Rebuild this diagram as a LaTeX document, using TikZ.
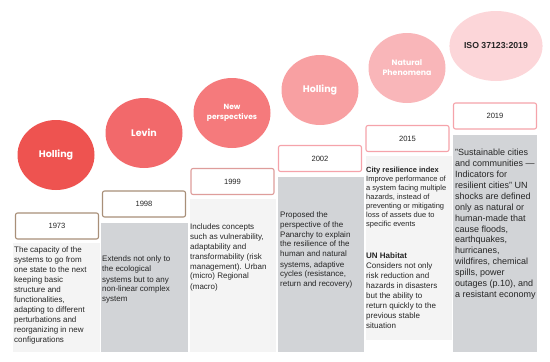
\documentclass[tikz,border=0pt]{standalone}
\usepackage{fontspec}
\setmainfont{Liberation Sans}
\newfontfamily\poppins{Poppins}
\usetikzlibrary{shapes.geometric}

\definecolor{boxbrown}{HTML}{A88F78}
\definecolor{boxpink}{HTML}{F5A3AA}
\definecolor{paneldark}{HTML}{D2D4D7}
\definecolor{panellight}{HTML}{F4F4F4}
\definecolor{txt}{HTML}{262626}

\tikzset{
	bubble/.style={ellipse, minimum width=77pt, minimum height=70pt, inner sep=1pt, align=center, text=white},
	yearbox/.style={draw=#1, line width=1.1pt, rounded corners=2pt, fill=white, minimum width=83pt, minimum height=26pt, text=txt, font=\fontsize{7.6}{9}\selectfont},
	blurb/.style={anchor=north west, align=left, inner sep=0pt, text=txt, font=\fontsize{8}{10}\selectfont},
}

\begin{document}
\begin{tikzpicture}[x=1pt, y=-1pt]
	\useasboundingbox (0,0) rectangle (550,362);
	% panels behind the texts
	\fill[panellight] (13,243) rectangle (100,352);
	\fill[paneldark] (101,223) rectangle (188,352);
	\fill[panellight] (190,199) rectangle (276,352);
	\fill[paneldark] (278,177) rectangle (364,352);
	\fill[panellight] (366,156) rectangle (452,340);
	\fill[paneldark] (453,135) rectangle (537,352);
	% bubbles
	\foreach \n/\x/\y/\c/\s/\l in {1/56/155/EE5350/9.5/Holling, 2/144/133/F2696B/9.5/Levin, 3/232/113/F57A7C/7.5/{New\\perspectives}, 4/320/90/F8A0A2/9.5/Holling, 5/407/68/F9B6B9/7.8/{Natural\\Phenomena}} {
		\definecolor{bc}{HTML}{\c}
		\node[bubble, fill=bc, font=\poppins\bfseries\fontsize{\s}{10}\selectfont] (c\n) at (\x,\y) {\l};
	}
	\node[bubble, fill={rgb,255:red,252;green,214;blue,217}, text=txt, font=\bfseries\fontsize{8.7}{10}\selectfont] (c6) at (496,46) {ISO 37123:2019};
	% year boxes
	\foreach \n/\x/\y/\c/\yr in {1/57/226/boxbrown/1973, 2/144/204/boxbrown/1998, 3/232.5/181.5/boxpink!70!boxbrown/1999, 4/320/158.5/boxpink/2002, 5/407.5/138.5/boxpink/2015, 6/495/116/boxpink/2019} {
		\node[yearbox=\c] (y\n) at (\x,\y) {\yr};
	}
	% texts
	\node[blurb] (t1) at (14,246) {The capacity of the\\systems to go from\\one state to the next\\keeping basic\\structure and\\functionalities,\\adapting to different\\perturbations and\\reorganizing in new\\configurations};
	\node[blurb] (t2) at (102,256) {Extends not only to\\the ecological\\systems but to any\\non-linear complex\\system};
	\node[blurb] (t3) at (190,223) {Includes concepts\\such as vulnerability,\\adaptability and\\transformability (risk\\management). Urban\\(micro) Regional\\(macro)};
	\node[blurb] (t4) at (280,211) {Proposed the\\perspective of the\\Panarchy to explain\\the resilience of the\\human and natural\\systems, adaptive\\cycles (resistance,\\return and recovery)};
	\node[blurb, font=\fontsize{7.5}{9}\selectfont] (t5) at (366,167) {\textbf{City resilience index}\\Improve performance of\\a system facing multiple\\hazards, instead of\\preventing or mitigating\\loss of assets due to\\specific events};
	\node[blurb] (t5b) at (366,252) {\textbf{UN Habitat}\\Considers not only\\risk reduction and\\hazards in disasters\\but the ability to\\return quickly to the\\previous stable\\situation};
	\node[blurb, font=\fontsize{9}{10.9}\selectfont] (t6) at (455,149) {"Sustainable cities\\and communities —\\Indicators for\\resilient cities" UN\\shocks are defined\\only as natural or\\human-made that\\cause floods,\\earthquakes,\\hurricanes,\\wildfires, chemical\\spills, power\\outages (p.10), and\\a resistant economy};
\end{tikzpicture}
\end{document}
